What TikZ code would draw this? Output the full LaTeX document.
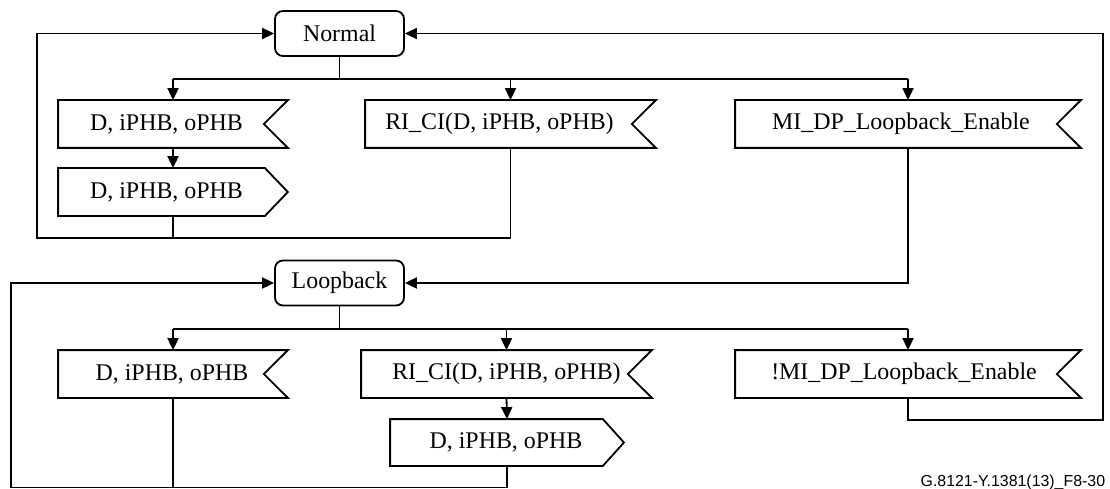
\documentclass[tikz,border=0pt]{standalone}
\usepackage{fontspec}
\setmainfont{Liberation Serif}
\newfontfamily\labelfont{Liberation Sans}
\usetikzlibrary{arrows.meta}
\begin{document}
\begin{tikzpicture}[x=1pt,y=-1pt,
  line width=1.8pt,
  font=\fontsize{23.9}{28}\selectfont,
  arr/.style={-{Triangle[length=12pt,width=11pt]}},
  state/.style={draw, rounded corners=8pt, minimum width=129pt, minimum height=45pt, inner sep=0pt},
  sigbox/.style={minimum height=46pt, inner sep=0pt},
  txt/.style={inner sep=0pt}]
\useasboundingbox (0,0) rectangle (1110,489);
\newcommand\recvoutline[2]{\draw (#1.north west) -- (#1.north east) -- ([xshift=-#2]#1.east) -- (#1.south east) -- (#1.south west) -- cycle;}
\newcommand\sendoutline[2]{\draw (#1.north west) -- ([xshift=-#2]#1.north east) -- (#1.east) -- ([xshift=-#2]#1.south east) -- (#1.south west) -- cycle;}

% states
\node[state] (normal) at (339.5,33.5) {Normal};
\node[state] (loop) at (339.5,283) {Loopback};

% upper signals
\node[sigbox, minimum width=228pt] (r1) at (173,124) {};
\node[sigbox, minimum width=228pt] (s1) at (173,192) {};
\node[sigbox, minimum width=289pt] (r2) at (510.5,124) {};
\node[sigbox, minimum width=344pt] (r3) at (908,124) {};
\recvoutline{r1}{24pt}
\sendoutline{s1}{23pt}
\recvoutline{r2}{24pt}
\recvoutline{r3}{24pt}
\node[txt] (t1) at ([xshift=-6.5pt]r1.center) {D, iPHB, oPHB};
\node[txt] (t2) at ([xshift=-6.5pt]s1.center) {D, iPHB, oPHB};
\node[txt] (t3) at ([xshift=-11pt]r2.center) {RI\_CI(D, iPHB, oPHB)};
\node[txt] (t4) at ([xshift=-7pt]r3.center) {MI\_DP\_Loopback\_Enable};

% lower signals
\node[sigbox, minimum width=228pt] (r4) at (173,374) {};
\node[sigbox, minimum width=289pt] (r5) at (506.5,374) {};
\node[sigbox, minimum width=232pt, minimum height=45pt] (s2) at (507,442.5) {};
\node[sigbox, minimum width=344pt] (r6) at (908,374) {};
\recvoutline{r4}{24pt}
\recvoutline{r5}{24pt}
\sendoutline{s2}{21pt}
\recvoutline{r6}{24pt}
\node[txt] (t5) at ([xshift=-1pt]r4.center) {D, iPHB, oPHB};
\node[txt] (t6) at (r5.center) {RI\_CI(D, iPHB, oPHB)};
\node[txt] (t7) at ([xshift=-1pt]s2.center) {D, iPHB, oPHB};
\node[txt] (t8) at ([xshift=-4pt]r6.center) {!MI\_DP\_Loopback\_Enable};

% helper coordinates
\coordinate (busT) at (0,79);
\coordinate (busB) at (0,329);
\coordinate (retT) at (37,238);
\coordinate (retB) at (11,487.5);
\coordinate (retR) at (1103,420);

% from Normal
\draw (normal.south) -- (normal.south |- busT);
\draw (r1.north |- busT) -- (r3.north |- busT);
\draw[arr] (r1.north |- busT) -- (r1.north);
\draw[arr] (r2.north |- busT) -- (r2.north);
\draw[arr] (r3.north |- busT) -- (r3.north);
\draw[arr] (r1.south) -- (s1.north);
\draw[arr] (s1.south) |- (retT) |- (normal.west);
\draw (r2.south) |- (s1.south |- retT);
\draw[arr] (r3.south) |- (loop.east);

% from Loopback
\draw (loop.south) -- (loop.south |- busB);
\draw (r4.north |- busB) -- (r6.north |- busB);
\draw[arr] (r4.north |- busB) -- (r4.north);
\draw[arr] (r5.north |- busB) -- (r5.north);
\draw[arr] (r6.north |- busB) -- (r6.north);
\draw[arr] (r5.south) -- (s2.north);
\draw[arr] (r4.south) |- (retB) |- (loop.west);
\draw (s2.south) |- (r4.south |- retB);
\draw[arr] (r6.south) |- (retR) |- (normal.east);

\node[anchor=base east, inner sep=0pt, font=\labelfont\fontsize{15.9}{18}\selectfont] (fig) at (1106,486) {G.8121-Y.1381(13)\_F8-30};
\end{tikzpicture}
\end{document}
